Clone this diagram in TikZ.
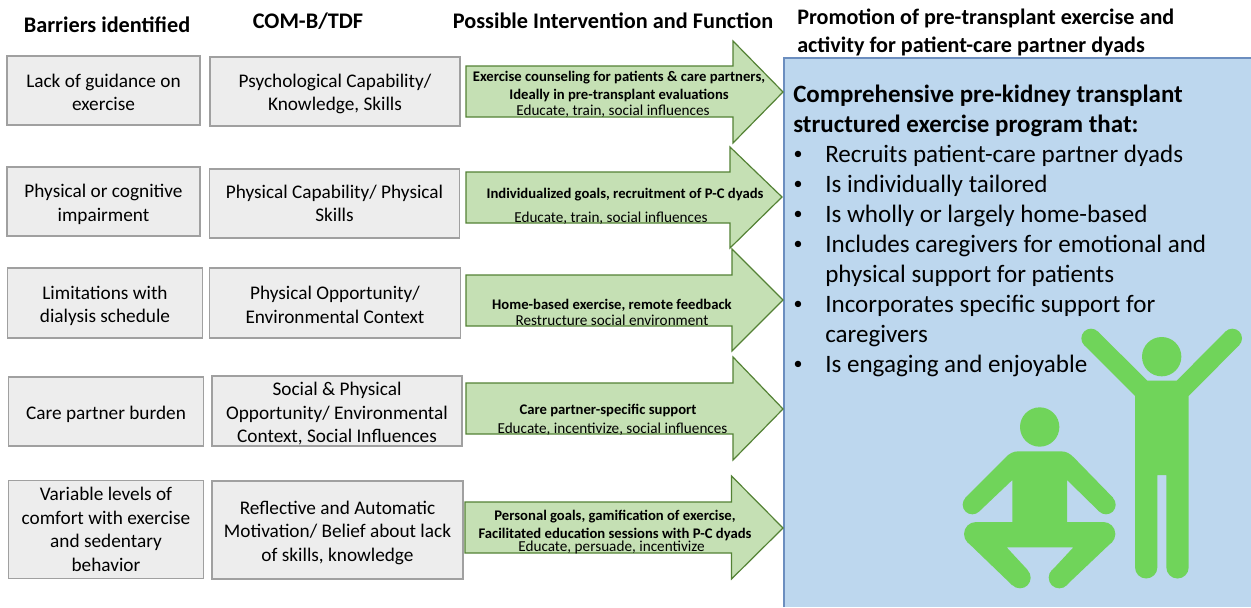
\documentclass[tikz,border=0pt]{standalone}
\usepackage{fontspec}
\setmainfont{Carlito}
\definecolor{boxfill}{HTML}{EDEDED}
\definecolor{boxline}{HTML}{A0A0A0}
\definecolor{arrowfill}{HTML}{C5E0B4}
\definecolor{arrowline}{HTML}{548235}
\definecolor{panelfill}{HTML}{BDD7EE}
\definecolor{panelline}{HTML}{6C8EBF}
\definecolor{figgreen}{HTML}{70D45A}
\newcommand{\sz}[2]{\fontsize{#1}{#2}\selectfont}
\newcommand{\dnA}{\rule{0pt}{14pt}}
\newcommand{\dnB}{\rule{0pt}{12.6pt}}
\newcommand{\blockarrow}[9]{%
  % name x0 ytop ybot xh yhtop yhbot xtip ytip
  \path[blockarrow] (#2,#3) -- (#5,#3) -- (#5,#6) -- (#8,#9) -- (#5,#7) -- (#5,#4) -- (#2,#4) -- cycle;
  \coordinate (#1) at (#8,#9);}
\tikzset{
  x=0.75pt,y=-0.75pt,
  wh/.style 2 args={minimum width=#1*0.75pt,minimum height=#2*0.75pt},
  graybox/.style={draw=boxline,fill=boxfill,line width=1.1pt,inner sep=0pt,align=center,font=\sz{14.45}{17.6}},
  heading/.style={anchor=base,inner sep=0pt,font=\bfseries\sz{16.7}{20}},
  headleft/.style={anchor=base west,inner sep=0pt,font=\bfseries\sz{16.6}{20}},
  blockarrow/.style={draw=arrowline,fill=arrowfill,line width=0.9pt,line join=miter},
  actionlabel/.style={anchor=base,inner sep=0pt,font=\bfseries\sz{11}{12}},
  funclabel/.style={anchor=base,inner sep=0pt,font=\sz{11.4}{12}},
  paneltitle/.style={anchor=base west,inner sep=0pt,font=\bfseries\sz{18.7}{22.5}},
  bulletmark/.style={anchor=base,inner sep=0pt,font=\sz{13.5}{14}},
  bullettext/.style={anchor=base west,inner sep=0pt,font=\sz{18.8}{22.5}},
}
\begin{document}
\begin{tikzpicture}
\path[use as bounding box] (0,0) rectangle (1251,607);
\fill[white] (0,0) rectangle (1251,607);

% headings
\node[heading] (h1) at (107,32) {Barriers identified};
\node[heading] (h2) at (308,28) {COM-B/TDF};
\node[heading] (h3) at (613,28) {Possible Intervention and Function};
\node[headleft] (h4a) at (797,24) {Promotion of pre-transplant exercise and};
\node[headleft] (h4b) at (797,52) {activity for patient-care partner dyads};

% barriers
\node[graybox,wh={193}{69}] (b1) at (103.5,90.5) {\dnB Lack of guidance on\\exercise};
\node[graybox,wh={193}{69}] (b2) at (103.5,201.5) {\dnA Physical or cognitive\\impairment};
\node[graybox,wh={195}{70}] (b3) at (105,303) {\dnA Limitations with\\dialysis schedule};
\node[graybox,wh={195}{69}] (b4) at (106,411.5) {\dnA Care partner burden};
\node[graybox,wh={195}{98}] (b5) at (106,529.5) {Variable levels of\\comfort with exercise\\and sedentary\\behavior};

% COM-B
\node[graybox,wh={250}{69}] (c1) at (335,91.5) {\dnA Psychological Capability/\\Knowledge, Skills};
\node[graybox,wh={250}{69}] (c2) at (334.5,203.5) {Physical Capability/ Physical\\Skills};
\node[graybox,wh={251}{70}] (c3) at (335,303) {\dnB Physical Opportunity/\\Environmental Context};
\node[graybox,wh={250}{70}] (c4) at (337,411) {\dnA Social \& Physical\\Opportunity/ Environmental\\Context, Social Influences};
\node[graybox,wh={251}{98}] (c5) at (337.5,530) {\dnA Reflective and Automatic\\Motivation/ Belief about lack\\of skills, knowledge};

% panel
\fill[panelfill] (784,58) rectangle (1251,607);
\draw[panelline,line width=1.1pt] (784,607) -- (784,58) -- (1251,58);

% arrows
\blockarrow{a1}{466}{66}{117}{733}{41}{143}{783}{92}
\blockarrow{a2}{466}{172}{223}{730}{147}{248}{782}{197}
\blockarrow{a3}{466}{275}{326}{732}{249}{351}{783}{300}
\blockarrow{a4}{466}{383}{434}{733}{357}{460}{783}{409}
\blockarrow{a5}{465}{502}{553}{731.5}{476}{579}{783}{528}

\node[actionlabel] (t1a) at (619,81) {Exercise counseling for patients \& care partners,};
\node[actionlabel] (t1b) at (619,99) {Ideally in pre-transplant evaluations};
\node[funclabel] (t1c) at (613,115) {Educate, train, social influences};
\node[actionlabel] (t2a) at (625,198) {Individualized goals, recruitment of P-C dyads};
\node[funclabel] (t2c) at (611,222) {Educate, train, social influences};
\node[actionlabel] (t3a) at (612,309) {Home-based exercise, remote feedback};
\node[funclabel] (t3c) at (612,325) {Restructure social environment};
\node[actionlabel] (t4a) at (608,414) {Care partner-specific support};
\node[funclabel] (t4c) at (612.5,433) {Educate, incentivize, social influences};
\node[actionlabel] (t5a) at (615,520) {Personal goals, gamification of exercise,};
\node[actionlabel] (t5b) at (615,538) {Facilitated education sessions with P-C dyads};
\node[funclabel] (t5c) at (611.5,551) {Educate, persuade, incentivize};

% panel text
\node[paneltitle] (p1) at (793,102) {Comprehensive pre-kidney transplant};
\node[paneltitle] (p2) at (793,132) {structured exercise program that:};
\foreach \yy/\nm/\txt in {
  162/l1/{Recruits patient-care partner dyads},
  192/l2/{Is individually tailored},
  222/l3/{Is wholly or largely home-based},
  252/l4/{Includes caregivers for emotional and},
  282/l5/{physical support for patients},
  312/l6/{Incorporates specific support for},
  342/l7/{caregivers},
  372/l8/{Is engaging and enjoyable}}{
  \node[bullettext] (\nm) at (825,\yy) {\txt};
}
\foreach \yy/\nm in {159/m1,189/m2,219/m3,249/m4,309/m6,369/m8}{
  \node[bulletmark] (\nm) at (798,\yy) {•};
}

% figures (coordinates of a 3x crop of the reference)
\begin{scope}[shift={(712.5pt,-232.5pt)},x=0.25pt,y=-0.25pt,fill=figgreen]
  % standing person
  \fill (635,140) circle[radius=59*0.25pt];
  \fill (592,212) -- (680,212) -- (826.5,64.5) -- (867.5,105.5) -- (716,258)
        -- (716,772) arc[start angle=0,end angle=-180,radius=33.5*0.25pt]
        -- (649,495) -- (622,495)
        -- (622,772) arc[start angle=0,end angle=-180,radius=33.5*0.25pt]
        -- (555,258) -- (402.5,105.5) -- (443.5,64.5) -- cycle;
  \fill (423,85) circle[radius=29*0.25pt];
  \fill (847,85) circle[radius=29*0.25pt];
  % squatting person
  \fill (269,351) circle[radius=59*0.25pt];
  \fill (187,510) -- (88,604) -- (46,563) -- (165,444) .. controls (178,430) and (190,424) .. (205,424)
        -- (333,424) .. controls (348,424) and (360,430) .. (373,444)
        -- (489,563) -- (447,604) -- (351,510) -- (351,640) -- (187,640) -- cycle;
  \fill (67,584) circle[radius=29*0.25pt];
  \fill (468,584) circle[radius=29*0.25pt];
  \fill (78,636) -- (460,636) -- (485,697) -- (350,825) -- (305,782) -- (370,712)
        -- (170,712) -- (233,780) -- (187,826) -- (53,697) -- cycle;
  \fill (78,672) circle[radius=36*0.25pt];
  \fill (460,672) circle[radius=36*0.25pt];
  \fill (210,803) circle[radius=32*0.25pt];
  \fill (328,803) circle[radius=32*0.25pt];
\end{scope}
\end{tikzpicture}
\end{document}
